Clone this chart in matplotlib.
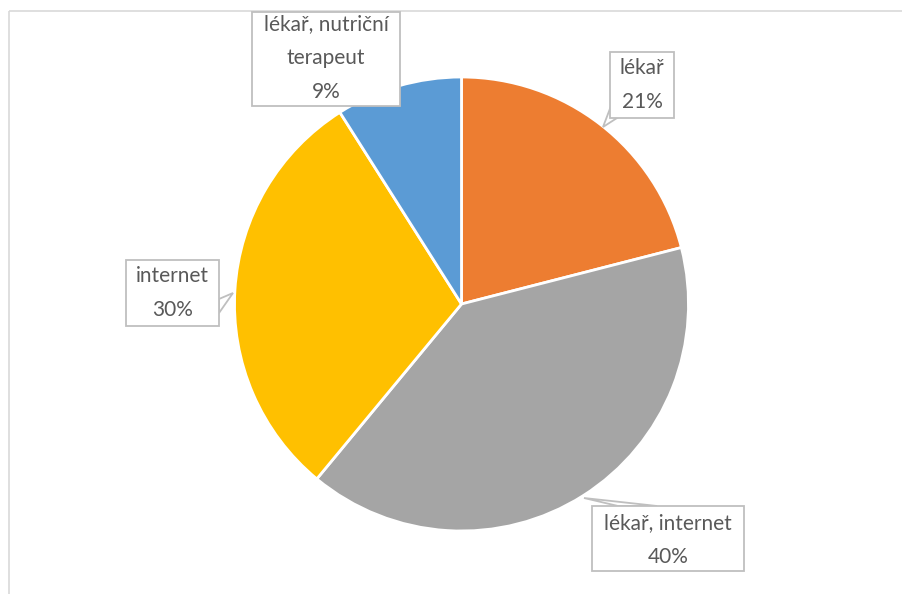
#!/usr/bin/env python3
# Pie chart: where respondents get their information (Czech labels)

import matplotlib
matplotlib.use('Agg')
import matplotlib.pyplot as plt
from matplotlib.patches import Rectangle, Polygon

W, H = 902, 594

categories = ['lékař', 'lékař, internet', 'internet', 'lékař, nutriční\nterapeut']
shares = [21, 40, 30, 9]
colours = ['#ED7D31', '#A5A5A5', '#FFC000', '#5B9BD5']

TEXT_COL = '#595959'
BOX_EDGE = '#BFBFBF'
FONT = ['Lato', 'DejaVu Sans']

# layout in pixels, origin top-left (y axis inverted below)
CENTER = (461.5, 304)
RADIUS = 227
# label box: (left, top, right, bottom), text centre, pointer polygon or None
callouts = [
    ((610, 52, 674, 118), (642, 85), [(611, 106), (603, 127), (617, 118)]),
    ((592, 506, 744, 571), (668, 540), [(618, 506), (584, 498), (657, 506)]),
    ((126, 260, 219, 326), (172.5, 293), [(219, 299), (233, 293), (219, 313)]),
    ((252, 12, 400, 106), (326, 58), None),
]

fig = plt.figure(figsize=(W / 100, H / 100), dpi=100)
ax = fig.add_axes([0, 0, 1, 1])
ax.set_xlim(0, W)
ax.set_ylim(H, 0)
ax.set_aspect('equal')
ax.axis('off')

# chart frame, only top and left edges visible in the crop
ax.add_patch(Rectangle((8.5, 10.5), 1000, 1000, fill=False, ec='#D9D9D9', lw=1.2))

# y is inverted, so start at -90 and go counterclockwise in data = clockwise on screen
ax.pie(shares, colors=colours, startangle=-90, counterclock=True,
       center=CENTER, radius=RADIUS, frame=True,
       wedgeprops=dict(edgecolor='white', linewidth=2, joinstyle='miter'))
ax.set_xlim(0, W)
ax.set_ylim(H, 0)
ax.axis('off')

for (box, tc, ptr), name, val in zip(callouts, categories, shares):
    l, t, r, b = box
    if ptr:
        ax.add_patch(Polygon(ptr, closed=True, fc='white', ec=BOX_EDGE, lw=1.3, zorder=5))
    ax.add_patch(Rectangle((l, t), r - l, b - t, fc='white', ec=BOX_EDGE, lw=1.3, zorder=6))
    ax.text(tc[0], tc[1], f'{name}\n{val}%', ha='center', va='center',
            fontsize=15, color=TEXT_COL, family=FONT, linespacing=1.9, zorder=7)

fig.savefig('out.png', dpi=100)
